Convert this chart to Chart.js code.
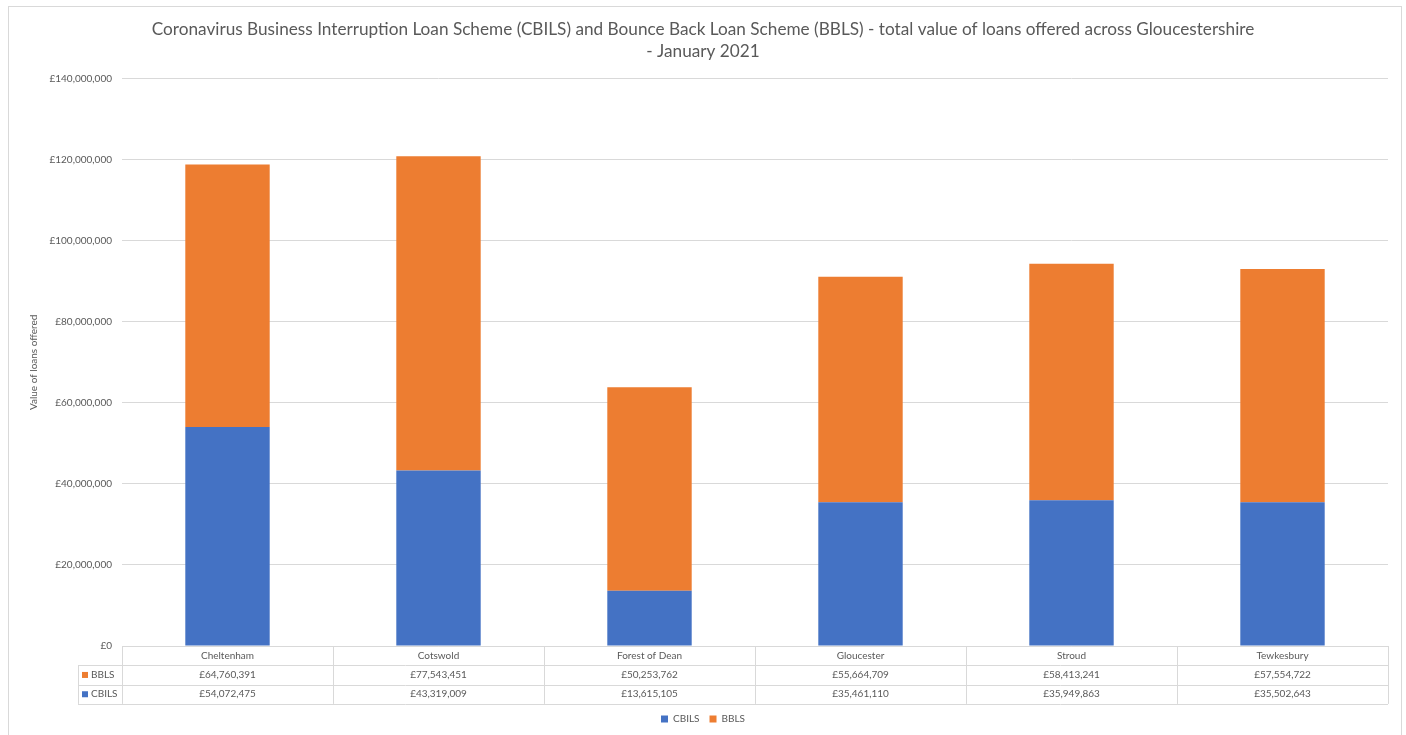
<!DOCTYPE html>
<html>
<head>
<meta charset="utf-8">
<title>CBILS and BBLS loans - Gloucestershire</title>
<script src="https://cdn.jsdelivr.net/npm/chart.js@4"></script>
<style>
  html, body { margin: 0; padding: 0; background: #fff; }
  #wrap { width: 1406px; height: 735px; position: relative; }
</style>
</head>
<body>
<div id="wrap"><canvas id="chart"></canvas></div>
<script>
const districts = ["Cheltenham", "Cotswold", "Forest of Dean", "Gloucester", "Stroud", "Tewkesbury"];
const cbilsValues = [54072475, 43319009, 13615105, 35461110, 35949863, 35502643];
const bblsValues = [64760391, 77543451, 50253762, 55664709, 58413241, 57554722];
const yTicks = [0, 20000000, 40000000, 60000000, 80000000, 100000000, 120000000, 140000000];

const blue = "#4472C4";
const orange = "#ED7D31";
const textGrey = "#595959";
const lineGrey = "#D9D9D9";
const fontFamily = "Lato, 'Open Sans', sans-serif";

const pounds = (v) => "£" + v.toLocaleString("en-GB");

// data table under the x axis, plus the outer frame
const tablePlugin = {
  id: "dataTable",
  beforeDraw(chart) {
    const ctx = chart.ctx;
    ctx.save();
    ctx.strokeStyle = lineGrey;
    ctx.lineWidth = 1;
    ctx.strokeRect(8.5, 6.5, 1393, 740);
    ctx.restore();
  },
  afterDraw(chart) {
    const ctx = chart.ctx;
    const x = chart.scales.x;
    const area = chart.chartArea;
    const left = area.left, right = area.right;
    const top = area.bottom;
    const rowH = 19.3;
    const keyLeft = 78;
    const colW = (right - left) / districts.length;

    ctx.save();
    ctx.strokeStyle = lineGrey;
    ctx.lineWidth = 1;
    ctx.beginPath();
    // horizontal rules
    ctx.moveTo(left, Math.round(top) + 0.5);
    ctx.lineTo(right, Math.round(top) + 0.5);
    for (let r = 1; r <= 3; r++) {
      const y = Math.round(top + r * rowH) + 0.5;
      ctx.moveTo(keyLeft, y);
      ctx.lineTo(right, y);
    }
    // vertical rules
    for (let c = 0; c <= districts.length; c++) {
      const xx = Math.round(left + c * colW) + 0.5;
      ctx.moveTo(xx, top);
      ctx.lineTo(xx, top + 3 * rowH);
    }
    ctx.moveTo(keyLeft + 0.5, top + rowH);
    ctx.lineTo(keyLeft + 0.5, top + 3 * rowH);
    ctx.stroke();

    const rows = [
      { label: "BBLS", color: orange, values: bblsValues },
      { label: "CBILS", color: blue, values: cbilsValues },
    ];
    ctx.font = "10px " + fontFamily;
    ctx.textBaseline = "middle";
    rows.forEach((row, r) => {
      const cy = top + (r + 1.5) * rowH;
      ctx.fillStyle = row.color;
      ctx.fillRect(keyLeft + 4, cy - 3, 6, 6);
      ctx.fillStyle = textGrey;
      ctx.textAlign = "left";
      ctx.fillText(row.label, keyLeft + 13, cy);
      ctx.textAlign = "center";
      row.values.forEach((v, i) => {
        ctx.fillText(pounds(v), x.getPixelForValue(i), cy);
      });
    });
    ctx.restore();
  },
};

new Chart(document.getElementById("chart"), {
  type: "bar",
  data: {
    labels: districts,
    datasets: [
      { label: "CBILS", data: cbilsValues, backgroundColor: blue },
      { label: "BBLS", data: bblsValues, backgroundColor: orange },
    ],
  },
  options: {
    responsive: true,
    maintainAspectRatio: false,
    animation: false,
    layout: { padding: { top: 0, right: 18, bottom: 1, left: 18 } },
    datasets: { bar: { categoryPercentage: 1, barPercentage: 0.4 } },
    plugins: {
      title: {
        display: true,
        text: [
          "Coronavirus Business Interruption Loan Scheme (CBILS) and Bounce Back Loan Scheme (BBLS) - total value of loans offered across Gloucestershire",
          "- January 2021",
        ],
        color: textGrey,
        font: { family: fontFamily, size: 17.2, weight: "normal", lineHeight: 1.3 },
        padding: { top: 18, bottom: 16 },
      },
      legend: {
        position: "bottom",
        labels: {
          color: textGrey,
          boxWidth: 7,
          boxHeight: 7,
          padding: 10,
          font: { family: fontFamily, size: 10 },
        },
      },
      tooltip: { enabled: false },
    },
    scales: {
      x: {
        stacked: true,
        grid: { display: false, drawTicks: false },
        border: { display: false },
        ticks: {
          color: textGrey,
          padding: 4,
          maxRotation: 0,
          font: { family: fontFamily, size: 10 },
        },
        afterFit(scale) { scale.height = 58; },
      },
      y: {
        stacked: true,
        min: 0,
        max: 140000000,
        afterBuildTicks(scale) { scale.ticks = yTicks.map((v) => ({ value: v })); },
        grid: { color: lineGrey, drawTicks: false },
        border: { display: false },
        ticks: {
          color: textGrey,
          padding: 10,
          font: { family: fontFamily, size: 10 },
          callback: (v) => pounds(v),
        },
        title: {
          display: true,
          text: "Value of loans offered",
          color: textGrey,
          font: { family: fontFamily, size: 10 },
          padding: { top: 10, bottom: 0 },
        },
        afterFit(scale) { scale.width = 104; },
      },
    },
  },
  plugins: [tablePlugin],
});
</script>
</body>
</html>
